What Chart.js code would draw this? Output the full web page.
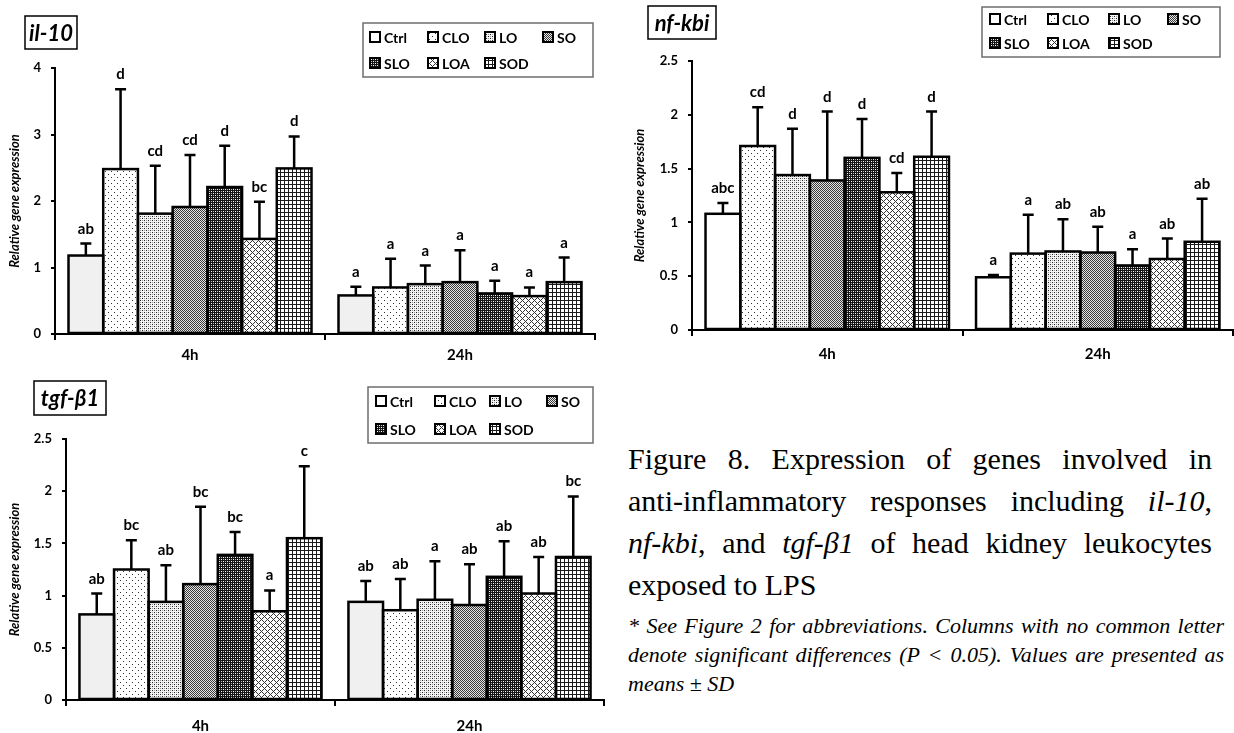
<!DOCTYPE html>
<html>
<head>
<meta charset="utf-8">
<script src="https://cdn.jsdelivr.net/npm/chart.js@4.4.1/dist/chart.umd.min.js"></script>
<style>
  html, body { margin: 0; padding: 0; background: #fff; }
  body { width: 1234px; height: 733px; position: relative; overflow: hidden; }
  canvas { position: absolute; }
  .cap { position: absolute; font-family: "Liberation Serif", "Times New Roman", serif; color: #000; white-space: nowrap; }
  .big { font-size: 30px; line-height: 42px; left: 628px; width: 584px; }
  .small { font-size: 22px; line-height: 29px; font-style: italic; left: 628px; width: 596px; }
  .just { text-align: justify; text-align-last: justify; }
</style>
</head>
<body>
<canvas id="cIl10" width="610" height="380" style="left:0;top:0"></canvas>
<canvas id="cNfkbi" width="624" height="380" style="left:610px;top:0"></canvas>
<canvas id="cTgf" width="610" height="363" style="left:0;top:370px"></canvas>

<div class="cap big just" style="top:438px">Figure 8. Expression of genes involved in</div>
<div class="cap big just" style="top:480px">anti-inflammatory responses including <i>il-10</i>,</div>
<div class="cap big just" style="top:522px"><i>nf-kbi</i>, and <i>tgf-β1</i> of head kidney leukocytes</div>
<div class="cap big" style="top:564px">exposed to LPS</div>
<div class="cap small just" style="top:611px">* See Figure 2 for abbreviations. Columns with no common letter</div>
<div class="cap small just" style="top:640px">denote significant differences (P &lt; 0.05). Values are presented as</div>
<div class="cap small" style="top:669px">means ± SD</div>

<script>
// ---- shared categories ----
const timePoints = ['4h', '24h'];
const groupNames = ['Ctrl', 'CLO', 'LO', 'SO', 'SLO', 'LOA', 'SOD'];

// ---- il-10 (means, SD, significance letters) ----
const il10Mean4h     = [1.18, 2.48, 1.81, 1.91, 2.21, 1.43, 2.49];
const il10Sd4h       = [0.18, 1.20, 0.72, 0.78, 0.62, 0.56, 0.48];
const il10Mean24h    = [0.58, 0.70, 0.75, 0.78, 0.61, 0.57, 0.78];
const il10Sd24h      = [0.13, 0.43, 0.28, 0.48, 0.19, 0.13, 0.37];
const il10Letters4h  = ['ab', 'd', 'cd', 'cd', 'd', 'bc', 'd'];
const il10Letters24h = ['a', 'a', 'a', 'a', 'a', 'a', 'a'];

// ---- nf-kbi ----
const nfkbiMean4h     = [1.08, 1.71, 1.44, 1.39, 1.60, 1.28, 1.61];
const nfkbiSd4h       = [0.10, 0.36, 0.43, 0.64, 0.36, 0.18, 0.42];
const nfkbiMean24h    = [0.49, 0.71, 0.73, 0.72, 0.60, 0.66, 0.82];
const nfkbiSd24h      = [0.02, 0.36, 0.30, 0.24, 0.15, 0.19, 0.40];
const nfkbiLetters4h  = ['abc', 'cd', 'd', 'd', 'd', 'cd', 'd'];
const nfkbiLetters24h = ['a', 'a', 'ab', 'ab', 'a', 'ab', 'ab'];

// ---- tgf-β1 ----
const tgfMean4h     = [0.82, 1.25, 0.94, 1.11, 1.39, 0.85, 1.55];
const tgfSd4h       = [0.20, 0.28, 0.35, 0.74, 0.22, 0.20, 0.69];
const tgfMean24h    = [0.94, 0.86, 0.96, 0.91, 1.18, 1.02, 1.37];
const tgfSd24h      = [0.20, 0.30, 0.37, 0.39, 0.34, 0.35, 0.58];
const tgfLetters4h  = ['ab', 'bc', 'ab', 'bc', 'bc', 'a', 'c'];
const tgfLetters24h = ['ab', 'ab', 'a', 'ab', 'ab', 'ab', 'bc'];

// ---- y-axis tick settings ----
const il10Axis  = { max: 4,   step: 1 };
const nfkbiAxis = { max: 2.5, step: 0.5 };
const tgfAxis   = { max: 2.5, step: 0.5 };

const FONT = 'Lato, "Open Sans", sans-serif';

// ---- monochrome fill patterns, built pixel by pixel ----
function makeTile(w, h, bg, pixels) {
  const c = document.createElement('canvas');
  c.width = w; c.height = h;
  const g = c.getContext('2d');
  g.fillStyle = bg; g.fillRect(0, 0, w, h);
  pixels.forEach(([x, y, col]) => { g.fillStyle = col; g.fillRect(x, y, 1, 1); });
  return g.createPattern(c, 'repeat');
}
function diagPixels(n, col) {
  const p = [];
  for (let i = 0; i < n; i++) { p.push([i, i, col]); p.push([i, (n - i) % n, col]); }
  return p;
}
function gridPixels(n, col) {
  const p = [];
  for (let i = 0; i < n; i++) { p.push([i, 0, col]); p.push([0, i, col]); }
  return p;
}
const fillCLO = makeTile(6, 6, '#ffffff', [[0, 0, '#333'], [3, 3, '#333']]);
const fillLO  = makeTile(4, 4, '#f4f4f4', [[0, 0, '#222'], [2, 2, '#222'], [0, 2, '#999'], [2, 0, '#999']]);
const fillSO  = makeTile(2, 2, '#e6e6e6', [[0, 0, '#3a3a3a'], [1, 1, '#3a3a3a']]);
const fillSLO = makeTile(4, 4, '#151515', [[1, 1, '#ffffff'], [3, 3, '#ffffff'], [1, 3, '#bbbbbb'], [3, 1, '#bbbbbb']]);
const fillLOA = makeTile(6, 6, '#ffffff', diagPixels(6, '#333'));
const fillSOD = makeTile(4, 4, '#ffffff', gridPixels(4, '#1a1a1a'));

function fillsWithCtrl(ctrlColor) {
  return [ctrlColor, fillCLO, fillLO, fillSO, fillSLO, fillLOA, fillSOD];
}

function buildDatasets(m4, s4, m24, s24, l4, l24, fills) {
  return groupNames.map((name, g) => ({
    label: name,
    data: [m4[g], m24[g]],
    sd: [s4[g], s24[g]],
    letters: [l4[g], l24[g]],
    backgroundColor: fills[g],
    legendFill: g === 0 ? '#ffffff' : fills[g],
    borderWidth: 0
  }));
}

// ---- bar outlines, SD whiskers and significance letters ----
const barMarks = {
  id: 'barMarks',
  afterDatasetsDraw(chart) {
    const { ctx } = chart;
    const yScale = chart.scales.y;
    ctx.save();
    ctx.strokeStyle = '#000';
    ctx.lineWidth = 2.5;
    chart.data.datasets.forEach((ds, i) => {
      chart.getDatasetMeta(i).data.forEach(bar => {
        const { x, y, base, width } = bar.getProps(['x', 'y', 'base', 'width'], true);
        ctx.strokeRect(x - width / 2, y, width, base - y);
      });
    });
    chart.data.datasets.forEach((ds, i) => {
      chart.getDatasetMeta(i).data.forEach((bar, j) => {
        const { x, y } = bar.getProps(['x', 'y'], true);
        const top = yScale.getPixelForValue(ds.data[j] + ds.sd[j]);
        ctx.beginPath();
        ctx.moveTo(x, y); ctx.lineTo(x, top);
        ctx.moveTo(x - 5.5, top); ctx.lineTo(x + 5.5, top);
        ctx.stroke();
        ctx.fillStyle = '#000';
        ctx.font = 'bold 15px ' + FONT;
        ctx.textAlign = 'center';
        ctx.textBaseline = 'alphabetic';
        ctx.fillText(ds.letters[j], x, top - 10);
      });
    });
    ctx.restore();
  }
};

// ---- gene name box and pattern legend ----
const panelDecor = {
  id: 'panelDecor',
  afterDraw(chart, args, o) {
    const { ctx } = chart;
    ctx.save();
    ctx.strokeStyle = '#000';
    ctx.lineWidth = 1.5;
    ctx.strokeRect(o.box[0], o.box[1], o.box[2], o.box[3]);
    ctx.fillStyle = '#000';
    ctx.font = 'italic bold 22px ' + FONT;
    ctx.textAlign = 'center';
    ctx.textBaseline = 'middle';
    ctx.fillText(o.title, o.box[0] + o.box[2] / 2, o.box[1] + o.box[3] / 2 + 1);

    const [lx, ly, lw, lh] = o.legend;
    ctx.strokeStyle = '#6e6e6e';
    ctx.lineWidth = 1.5;
    ctx.strokeRect(lx, ly, lw, lh);
    chart.data.datasets.forEach((ds, i) => {
      const sx = lx + o.cols[i % 4];
      const sy = ly + o.rows[Math.floor(i / 4)];
      ctx.fillStyle = ds.legendFill;
      ctx.fillRect(sx, sy - 5, 10, 10);
      ctx.strokeStyle = '#000';
      ctx.lineWidth = 2;
      ctx.strokeRect(sx, sy - 5, 10, 10);
      ctx.fillStyle = '#000';
      ctx.font = 'bold 14px ' + FONT;
      ctx.textAlign = 'left';
      ctx.textBaseline = 'middle';
      ctx.fillText(ds.label, sx + 14, sy + 1);
    });
    ctx.restore();
  }
};

function makeChart(id, datasets, axis, cfg) {
  return new Chart(document.getElementById(id), {
    type: 'bar',
    data: { labels: timePoints, datasets },
    plugins: [barMarks, panelDecor],
    options: {
      responsive: false,
      animation: false,
      events: [],
      layout: { padding: cfg.padding },
      datasets: { bar: { categoryPercentage: 0.9, barPercentage: 1.0 } },
      plugins: {
        legend: { display: false },
        tooltip: { enabled: false },
        panelDecor: cfg.decor
      },
      scales: {
        x: {
          type: 'category',
          offset: true,
          grid: { offset: true, drawOnChartArea: false, drawTicks: true, tickLength: 6, color: '#000', lineWidth: 2 },
          border: { display: true, color: '#000', width: 2 },
          ticks: { color: '#000', font: { family: FONT, weight: 'bold', size: 15 }, padding: cfg.xPad, maxRotation: 0 },
          afterFit(s) { s.height = cfg.xHeight; }
        },
        y: {
          min: 0,
          max: axis.max,
          ticks: {
            stepSize: axis.step,
            color: '#000',
            font: { family: FONT, weight: 'bold', size: 13 },
            padding: 10,
            callback: v => String(Number(v.toFixed(2)))
          },
          grid: { drawOnChartArea: false, drawTicks: true, tickLength: 4, color: '#000', lineWidth: 2 },
          border: { display: true, color: '#000', width: 2 },
          title: {
            display: true,
            text: 'Relative gene expression',
            color: '#000',
            font: { family: FONT, style: 'italic', weight: 'bold', size: 13 },
            padding: { top: cfg.titlePad, bottom: 0 }
          },
          afterFit(s) { s.width = cfg.yWidth; }
        }
      }
    }
  });
}

makeChart('cIl10',
  buildDatasets(il10Mean4h, il10Sd4h, il10Mean24h, il10Sd24h, il10Letters4h, il10Letters24h, fillsWithCtrl('#f0f0f0')),
  il10Axis,
  {
    padding: { left: 0, right: 15, top: 68, bottom: 6 },
    xHeight: 40, xPad: 6, yWidth: 55, titlePad: 7,
    decor: { title: 'il-10', box: [25, 16, 52, 33], legend: [363, 23, 230, 54], cols: [7, 65, 122, 180], rows: [14, 40] }
  });

makeChart('cNfkbi',
  buildDatasets(nfkbiMean4h, nfkbiSd4h, nfkbiMean24h, nfkbiSd24h, nfkbiLetters4h, nfkbiLetters24h, fillsWithCtrl('#ffffff')),
  nfkbiAxis,
  {
    padding: { left: 0, right: 1, top: 61, bottom: 10 },
    xHeight: 40, xPad: 9, yWidth: 82, titlePad: 22,
    decor: { title: 'nf-kbi', box: [38, 6, 68, 33], legend: [372, 7, 238, 50], cols: [8, 66, 127, 186], rows: [12, 36] }
  });

makeChart('cTgf',
  buildDatasets(tgfMean4h, tgfSd4h, tgfMean24h, tgfSd24h, tgfLetters4h, tgfLetters24h, fillsWithCtrl('#f0f0f0')),
  tgfAxis,
  {
    padding: { left: 0, right: 6, top: 69, bottom: 0 },
    xHeight: 33, xPad: 11, yWidth: 66, titlePad: 7,
    decor: { title: 'tgf-β1', box: [34, 11, 72, 34], legend: [368, 17, 225, 56], cols: [8, 67, 122, 179], rows: [14, 42] }
  });
</script>
</body>
</html>
